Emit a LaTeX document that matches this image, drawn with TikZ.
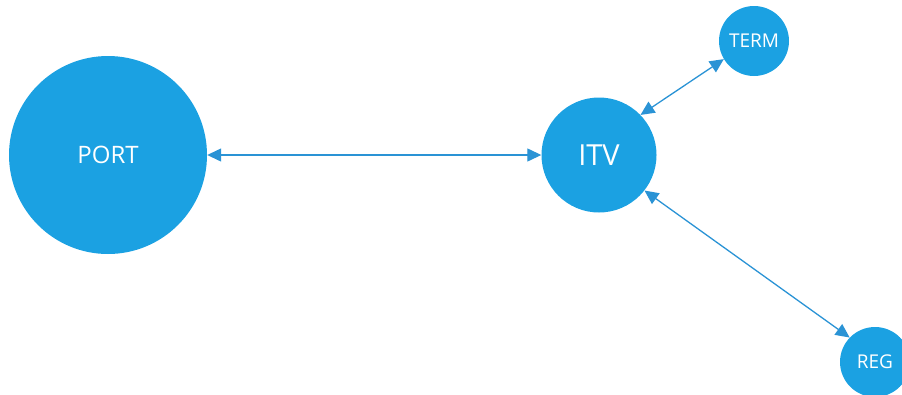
\documentclass[tikz,border=0pt]{standalone}
\usepackage{fontspec}
\setmainfont{Open Sans}
\usetikzlibrary{arrows.meta}
\definecolor{nodeblue}{HTML}{1BA1E2}
\definecolor{linkblue}{HTML}{2A93D5}
\begin{document}
\begin{tikzpicture}[x=1pt, y=-1pt, >={Triangle[length=14pt, width=13pt]},
    ent/.style={circle, fill=nodeblue, text=white, inner sep=0pt},
    link/.style={<->, linkblue, line width=1.3pt}]
    \useasboundingbox (0,0) rectangle (902,394);

    \node[ent, minimum size=198pt, font=\fontsize{24}{28}\selectfont] (port) at (108,155) {PORT};
    \node[ent, minimum size=115pt, font=\fontsize{29}{34}\selectfont] (itv) at (599,155) {ITV};
    \node[ent, minimum size=70pt, font=\fontsize{19}{23}\selectfont] (term) at (754,41) {TERM};
    \node[ent, minimum size=70pt, font=\fontsize{19}{23}\selectfont] (reg) at (875,362) {REG};

    \draw[link] (port) -- (itv);
    \draw[link] (itv.44) -- (term.211);
    \draw[link] (itv.322) -- (reg.136);
\end{tikzpicture}
\end{document}
